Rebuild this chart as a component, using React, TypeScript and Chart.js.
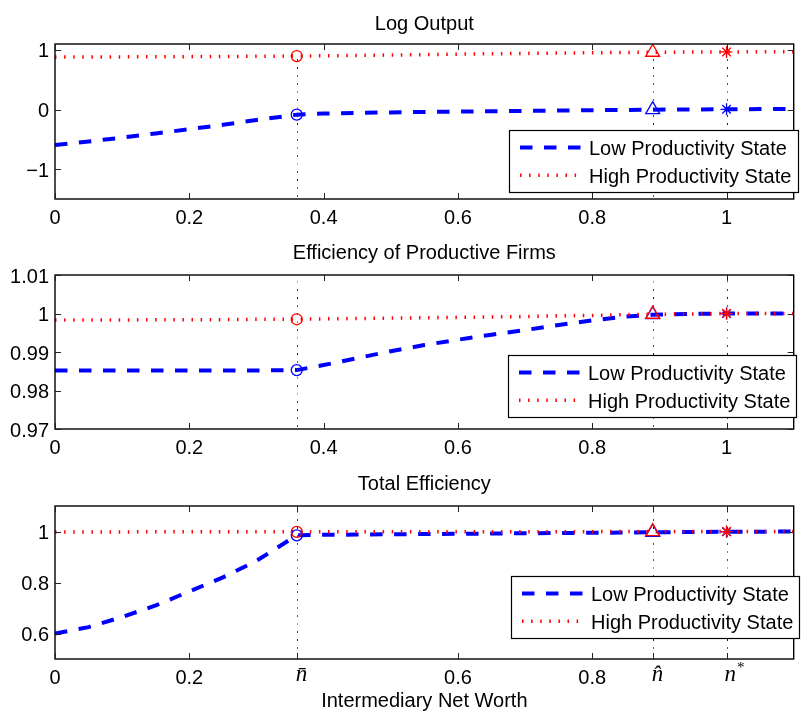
import React, { useEffect, useRef } from 'react';
import { Chart, registerables } from 'chart.js';

Chart.register(...registerables);

// ---------- data ----------
const xs = [0, 0.05, 0.1, 0.15, 0.2, 0.25, 0.3, 0.36, 0.4, 0.45, 0.5, 0.55, 0.6, 0.65, 0.7, 0.75, 0.8, 0.85, 0.89, 0.95, 1.0, 1.05, 1.1];

const logOutputLow = [-0.595, -0.535, -0.47, -0.4, -0.33, -0.255, -0.175, -0.085, -0.066, -0.056, -0.047, -0.04, -0.034, -0.028, -0.022, -0.016, -0.011, -0.006, -0.002, 0.002, 0.005, 0.008, 0.01];
const logOutputHigh = [0.88, 0.882, 0.884, 0.886, 0.888, 0.891, 0.894, 0.898, 0.902, 0.908, 0.915, 0.922, 0.93, 0.936, 0.942, 0.948, 0.953, 0.958, 0.962, 0.965, 0.967, 0.969, 0.97];

const effProdLow = [0.9852, 0.9852, 0.9852, 0.9852, 0.9852, 0.9852, 0.9852, 0.9853, 0.9866, 0.9884, 0.9902, 0.9918, 0.9932, 0.9945, 0.9957, 0.997, 0.9982, 0.9992, 0.9997, 0.9999, 1.0, 1.0, 1.0];
const effProdHigh = [0.9983, 0.9983, 0.9983, 0.9984, 0.9984, 0.9984, 0.9985, 0.9985, 0.9986, 0.9987, 0.9988, 0.9989, 0.999, 0.9991, 0.9992, 0.9994, 0.9995, 0.9997, 0.9998, 0.9999, 1.0, 1.0, 1.0];

const totalEffLow = [0.6, 0.625, 0.665, 0.71, 0.765, 0.82, 0.885, 0.985, 0.987, 0.988, 0.989, 0.99, 0.991, 0.992, 0.993, 0.994, 0.995, 0.996, 0.997, 0.998, 0.999, 0.999, 1.0];
const totalEffHigh = [0.9985, 0.9985, 0.9985, 0.9986, 0.9986, 0.9986, 0.9987, 0.9987, 0.9988, 0.9988, 0.9989, 0.999, 0.9991, 0.9992, 0.9993, 0.9994, 0.9995, 0.9996, 0.9997, 0.9998, 0.9999, 1.0, 1.0];

const nBar = 0.36;
const nHat = 0.89;
const nStar = 1.0;
const markerXs = [nBar, nHat, nStar];
const markerStyles = ['circle', 'triangle', 'star'];

const seriesNames = ['Low Productivity State', 'High Productivity State'];
const panelTitles = ['Log Output', 'Efficiency of Productive Firms', 'Total Efficiency'];
const xAxisTitle = 'Intermediary Net Worth';

const xRange = [0, 1.1];
const xTicksStd = [0, 0.2, 0.4, 0.6, 0.8, 1];
const xTickLabelsStd = ['0', '0.2', '0.4', '0.6', '0.8', '1'];
const xTicksMath = [0, 0.2, nBar, 0.6, 0.8, nHat, nStar];
const xTickLabelsMath = ['0', '0.2', 'n\u0304', '0.6', '0.8', 'n\u0302', 'n*'];

const yRange1 = [-1.5, 1.1];
const yTicks1 = [-1, 0, 1];
const yTickLabels1 = ['\u22121', '0', '1'];
const yRange2 = [0.97, 1.01];
const yTicks2 = [0.97, 0.98, 0.99, 1, 1.01];
const yTickLabels2 = ['0.97', '0.98', '0.99', '1', '1.01'];
const yRange3 = [0.5, 1.1];
const yTicks3 = [0.6, 0.8, 1];
const yTickLabels3 = ['0.6', '0.8', '1'];

// ---------- panel definitions ----------
const panels = [
  { title: panelTitles[0], low: logOutputLow, high: logOutputHigh, yRange: yRange1, yTicks: yTicks1, yLabels: yTickLabels1, xTicks: xTicksStd, xLabels: xTickLabelsStd, vTop: null as number | null, xTitle: false },
  { title: panelTitles[1], low: effProdLow, high: effProdHigh, yRange: yRange2, yTicks: yTicks2, yLabels: yTickLabels2, xTicks: xTicksStd, xLabels: xTickLabelsStd, vTop: yRange2[1] as number | null, xTitle: false },
  { title: panelTitles[2], low: totalEffLow, high: totalEffHigh, yRange: yRange3, yTicks: yTicks3, yLabels: yTickLabels3, xTicks: xTicksMath, xLabels: xTickLabelsMath, vTop: yRange3[1] as number | null, xTitle: true },
];

// layout (page pixels)
const layouts = [
  { top: 0, height: 236, areaTop: 44, areaBottom: 199, titleBase: 30, legLeft: 509, legTop: 130, legRight: 799 },
  { top: 236, height: 230, areaTop: 275, areaBottom: 429, titleBase: 259, legLeft: 508, legTop: 355, legRight: 797 },
  { top: 466, height: 247, areaTop: 506, areaBottom: 659, titleBase: 490, legLeft: 511, legTop: 576, legRight: 800 },
];
const AREA_LEFT = 55;
const AREA_RIGHT = 799;
const W = 801;

const SANS = '"Liberation Sans", Arial, Helvetica, sans-serif';
const SERIF = '"Liberation Serif", "Times New Roman", serif';
const BLUE = '#0000ff';
const RED = '#ff0000';
const LOW_DASH = [12.5, 11.5];
const HIGH_DASH = [1.5, 7.6];
const vColors = ['#ff0000', '#00a000', '#0000ff', '#404040', '#bfbf00', '#c000c0', '#00bfbf'];

function valueAt(series: number[], x: number) {
  const i = xs.findIndex((v) => Math.abs(v - x) < 1e-9);
  return series[i];
}

function Panel({ idx }: { idx: number }) {
  const ref = useRef<HTMLCanvasElement | null>(null);
  const p = panels[idx];
  const L = layouts[idx];

  useEffect(() => {
    const canvas = ref.current!;
    const areaTop = L.areaTop - L.top;
    const areaBottom = L.areaBottom - L.top;

    const decor = {
      id: 'decor',
      beforeDatasetsDraw(chart: any) {
        const ctx = chart.ctx;
        const xs_ = chart.scales.x;
        const ys_ = chart.scales.y;
        ctx.save();
        markerXs.forEach((mx) => {
          const px = Math.round(xs_.getPixelForValue(mx));
          const topV = p.vTop === null ? valueAt(p.high, mx) : p.vTop;
          const y0 = ys_.getPixelForValue(p.yRange[0]);
          const y1 = ys_.getPixelForValue(topV);
          let k = 0;
          for (let y = y0 - 3; y > y1; y -= 8, k++) {
            ctx.fillStyle = vColors[k % vColors.length];
            ctx.fillRect(px, Math.round(y) - 1, 1, 2);
          }
        });
        ctx.restore();
      },
      afterDraw(chart: any) {
        const ctx = chart.ctx;
        const a = chart.chartArea;
        const xsc = chart.scales.x;
        const ysc = chart.scales.y;
        ctx.save();
        // box
        ctx.strokeStyle = '#000';
        ctx.lineWidth = 1.4;
        ctx.setLineDash([]);
        ctx.strokeRect(a.left, a.top, a.right - a.left, a.bottom - a.top);
        // inner ticks
        ctx.lineWidth = 1;
        ctx.strokeStyle = '#222';
        const tl = 6;
        p.xTicks.forEach((v) => {
          const px = Math.round(xsc.getPixelForValue(v)) + 0.5;
          ctx.beginPath();
          ctx.moveTo(px, a.bottom);
          ctx.lineTo(px, a.bottom - tl);
          ctx.moveTo(px, a.top);
          ctx.lineTo(px, a.top + tl);
          ctx.stroke();
        });
        p.yTicks.forEach((v) => {
          const py = Math.round(ysc.getPixelForValue(v)) + 0.5;
          ctx.beginPath();
          ctx.moveTo(a.left, py);
          ctx.lineTo(a.left + tl, py);
          ctx.moveTo(a.right, py);
          ctx.lineTo(a.right - tl, py);
          ctx.stroke();
        });
        // tick labels
        ctx.fillStyle = '#000';
        ctx.textBaseline = 'alphabetic';
        ctx.font = `20px ${SANS}`;
        p.yTicks.forEach((v, i) => {
          const py = ysc.getPixelForValue(v);
          ctx.textAlign = 'right';
          ctx.fillText(p.yLabels[i], a.left - 6, py + 7.5);
        });
        p.xTicks.forEach((v, i) => {
          const px = xsc.getPixelForValue(v);
          const lab = p.xLabels[i];
          const base = a.bottom + 25;
          if (/^[0-9.]+$/.test(lab)) {
            ctx.font = `20px ${SANS}`;
            ctx.textAlign = 'center';
            ctx.fillText(lab, px, base);
          } else if (lab === 'n*') {
            ctx.font = `italic 23px ${SERIF}`;
            ctx.textAlign = 'left';
            ctx.fillText('n', px - 2, base - 3);
            const w = ctx.measureText('n').width;
            ctx.font = `15px ${SERIF}`;
            ctx.fillText('*', px - 2 + w + 1, base - 12);
          } else {
            ctx.font = `italic 23px ${SERIF}`;
            ctx.textAlign = 'left';
            ctx.fillText(lab, px - 1, base - 3);
          }
        });
        // title
        ctx.font = `20px ${SANS}`;
        ctx.textAlign = 'center';
        const cx = (a.left + a.right) / 2;
        ctx.fillText(p.title, cx, L.titleBase - L.top);
        if (p.xTitle) {
          ctx.fillText(xAxisTitle, cx, 707 - L.top);
        }
        // legend
        const lx = L.legLeft;
        const ly = L.legTop - L.top;
        const lw = L.legRight - L.legLeft;
        const lh = 63;
        ctx.fillStyle = '#fff';
        ctx.fillRect(lx, ly, lw, lh);
        ctx.strokeStyle = '#000';
        ctx.lineWidth = 1.2;
        ctx.strokeRect(lx + 0.5, ly + 0.5, lw - 1, lh - 1);
        // samples
        ctx.lineCap = 'butt';
        ctx.strokeStyle = BLUE;
        ctx.lineWidth = 4;
        ctx.setLineDash(LOW_DASH);
        ctx.beginPath();
        ctx.moveTo(lx + 11, ly + 17.5);
        ctx.lineTo(lx + 73, ly + 17.5);
        ctx.stroke();
        ctx.strokeStyle = RED;
        ctx.lineWidth = 3.5;
        ctx.setLineDash(HIGH_DASH);
        ctx.beginPath();
        ctx.moveTo(lx + 11, ly + 45.3);
        ctx.lineTo(lx + 73, ly + 45.3);
        ctx.stroke();
        ctx.setLineDash([]);
        ctx.fillStyle = '#000';
        ctx.font = `20px ${SANS}`;
        ctx.textAlign = 'left';
        ctx.fillText(seriesNames[0], lx + 80, ly + 24.5);
        ctx.fillText(seriesNames[1], lx + 80, ly + 52.8);
        ctx.restore();
      },
    };

    const chart = new Chart(canvas, {
      type: 'line',
      data: {
        datasets: [
          {
            label: seriesNames[0],
            data: xs.map((x, i) => ({ x, y: p.low[i] })),
            borderColor: BLUE,
            borderWidth: 4,
            borderDash: LOW_DASH,
            borderCapStyle: 'butt',
            pointRadius: 0,
            tension: 0,
            fill: false,
            order: 4,
          } as any,
          {
            label: seriesNames[1],
            data: xs.map((x, i) => ({ x, y: p.high[i] })),
            borderColor: RED,
            borderWidth: 3.5,
            borderDash: HIGH_DASH,
            borderCapStyle: 'butt',
            pointRadius: 0,
            tension: 0,
            fill: false,
            order: 3,
          } as any,
          {
            label: seriesNames[0] + ' markers',
            data: markerXs.map((x) => ({ x, y: valueAt(p.low, x) })),
            showLine: false,
            pointStyle: markerStyles,
            pointRadius: [5.5, 8, 6],
            pointBorderColor: BLUE,
            pointBackgroundColor: 'rgba(0,0,0,0)',
            pointBorderWidth: 1.3,
            order: 2,
          } as any,
          {
            label: seriesNames[1] + ' markers',
            data: markerXs.map((x) => ({ x, y: valueAt(p.high, x) })),
            showLine: false,
            pointStyle: markerStyles,
            pointRadius: [5.5, 8, 6],
            pointBorderColor: RED,
            pointBackgroundColor: 'rgba(0,0,0,0)',
            pointBorderWidth: 1.3,
            order: 1,
          } as any,
        ],
      },
      options: {
        responsive: false,
        animation: false,
        events: [],
        layout: {
          padding: {
            left: AREA_LEFT,
            right: W - AREA_RIGHT,
            top: areaTop,
            bottom: L.height - areaBottom,
          },
        },
        scales: {
          x: { type: 'linear', min: xRange[0], max: xRange[1], display: false },
          y: { type: 'linear', min: p.yRange[0], max: p.yRange[1], display: false },
        },
        plugins: {
          legend: { display: false },
          tooltip: { enabled: false },
          title: { display: false },
        },
      },
      plugins: [decor],
    });
    return () => chart.destroy();
  }, []);

  return (
    <canvas
      ref={ref}
      width={W}
      height={L.height}
      style={{ position: 'absolute', left: 0, top: L.top, width: W, height: L.height, display: 'block' }}
    />
  );
}

export default function App() {
  return (
    <div style={{ position: 'absolute', left: 0, top: 0, width: W, height: 713, background: '#fff', overflow: 'hidden' }}>
      {panels.map((_, i) => (
        <Panel key={i} idx={i} />
      ))}
    </div>
  );
}
